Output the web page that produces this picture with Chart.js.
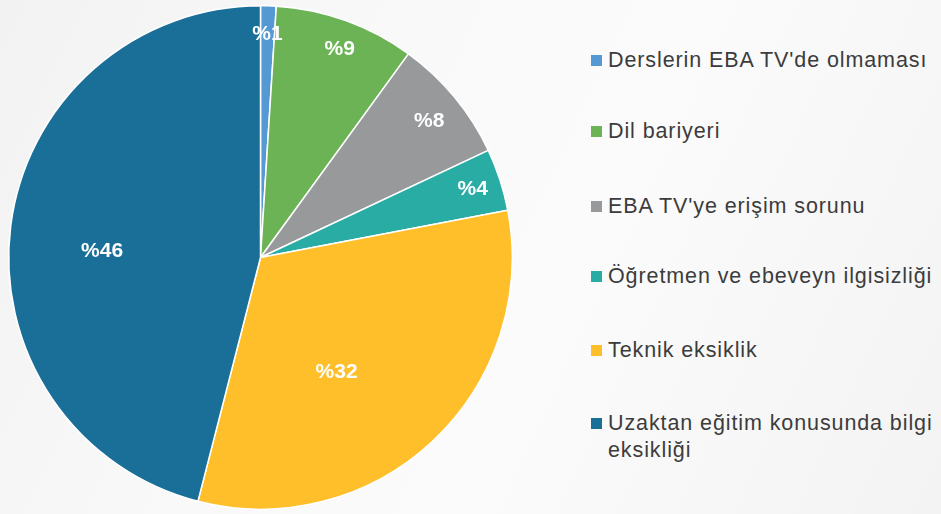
<!DOCTYPE html>
<html>
<head>
<meta charset="utf-8">
<script src="https://cdn.jsdelivr.net/npm/chart.js@4"></script>
<style>
  html, body { margin: 0; padding: 0; }
  body {
    width: 941px; height: 514px; overflow: hidden; position: relative;
    background: linear-gradient(115deg, #f2f2f3 0%, #f9f9f9 35%, #fbfbfb 60%, #f3f3f4 100%);
    font-family: "Liberation Sans", Arial, sans-serif;
  }
  #wrap { position: absolute; left: 0; top: 0; width: 522px; height: 514px; }
  #legend { position: absolute; left: 591px; top: 0; width: 350px; }
  #legend .item { position: absolute; left: 0; width: 350px; font-size: 21.5px; letter-spacing: 0.9px; line-height: 27px; color: #3c3c3c; padding-left: 17px; box-sizing: border-box; }
  #legend .box { position: absolute; left: 0; top: 8px; width: 11px; height: 11px; }
</style>
</head>
<body>
<div id="wrap"><canvas id="pie"></canvas></div>
<div id="legend"></div>
<script>
var labels = [
  "Derslerin EBA TV'de olmaması",
  "Dil bariyeri",
  "EBA TV'ye erişim sorunu",
  "Öğretmen ve ebeveyn ilgisizliği",
  "Teknik eksiklik",
  "Uzaktan eğitim konusunda bilgi eksikliği"
];
var values = [1, 9, 8, 4, 32, 46];
var colors = ['#5599d4', '#6cb356', '#97999b', '#29aca4', '#ffbf2a', '#1a6f98'];

// label placement (style): radius fraction and angle shift in degrees
var labelRadius = [0.89, 0.89, 0.865, 0.887, 0.545, 0.63];
var labelShift = [0, 0.9, 0.4, -0.2, 9.5, -4.4];
var legendTops = [47, 118, 193, 263, 337, 410];

var sliceLabels = {
  id: 'sliceLabels',
  afterDatasetsDraw: function(chart) {
    var ctx = chart.ctx;
    var meta = chart.getDatasetMeta(0);
    ctx.save();
    ctx.fillStyle = '#ffffff';
    ctx.font = 'bold 21px "Liberation Sans", Arial, sans-serif';
    ctx.textAlign = 'center';
    ctx.textBaseline = 'middle';
    meta.data.forEach(function(arc, i) {
      var p = arc.getProps(['x', 'y', 'startAngle', 'endAngle', 'outerRadius'], true);
      var mid = (p.startAngle + p.endAngle) / 2 + labelShift[i] * Math.PI / 180;
      var r = p.outerRadius * labelRadius[i];
      ctx.fillText('%' + values[i], p.x + Math.cos(mid) * r, p.y + Math.sin(mid) * r + 1);
    });
    ctx.restore();
  }
};

new Chart(document.getElementById('pie'), {
  type: 'pie',
  data: {
    labels: labels,
    datasets: [{
      data: values,
      backgroundColor: colors,
      borderColor: '#ffffff',
      borderWidth: 1.5
    }]
  },
  options: {
    responsive: true,
    maintainAspectRatio: false,
    animation: false,
    layout: { padding: { left: 8, right: 9, top: 5, bottom: 4 } },
    plugins: {
      legend: { display: false },
      tooltip: { enabled: false }
    }
  },
  plugins: [sliceLabels]
});

var legend = document.getElementById('legend');
labels.forEach(function(l, i) {
  var item = document.createElement('div');
  item.className = 'item';
  item.style.top = legendTops[i] + 'px';
  var box = document.createElement('span');
  box.className = 'box';
  box.style.background = colors[i];
  item.appendChild(box);
  item.appendChild(document.createTextNode(l));
  legend.appendChild(item);
});
</script>
</body>
</html>
